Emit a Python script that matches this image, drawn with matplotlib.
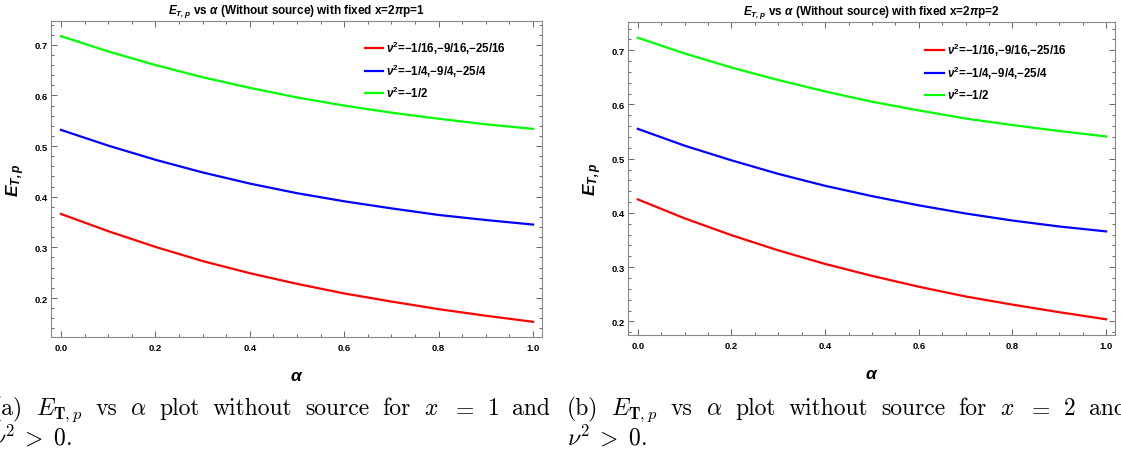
import numpy as np
import matplotlib
matplotlib.use("Agg")
from matplotlib import pyplot as plt
from matplotlib.ticker import MultipleLocator

# alpha grid and E_{T,p} values
alpha = [0.0, 0.1, 0.2, 0.3, 0.4, 0.5, 0.6, 0.7, 0.8, 0.9, 1.0]

red_x1 = [0.366, 0.332, 0.301, 0.273, 0.249, 0.228, 0.209, 0.193, 0.178, 0.165, 0.153]
blue_x1 = [0.532, 0.501, 0.473, 0.448, 0.426, 0.407, 0.391, 0.377, 0.364, 0.354, 0.345]
green_x1 = [0.717, 0.687, 0.660, 0.636, 0.615, 0.596, 0.580, 0.566, 0.554, 0.543, 0.534]

red_x2 = [0.425, 0.390, 0.359, 0.331, 0.306, 0.284, 0.264, 0.246, 0.231, 0.217, 0.204]
blue_x2 = [0.555, 0.524, 0.497, 0.472, 0.450, 0.431, 0.414, 0.399, 0.386, 0.375, 0.366]
green_x2 = [0.723, 0.694, 0.668, 0.645, 0.624, 0.605, 0.589, 0.574, 0.562, 0.551, 0.541]

labels = [r"$\mathbfit{\nu}^{\mathbf{2}}$=−1/16,−9/16,−25/16",
          r"$\mathbfit{\nu}^{\mathbf{2}}$=−1/4,−9/4,−25/4",
          r"$\mathbfit{\nu}^{\mathbf{2}}$=−1/2"]
colors = ["#ff0000", "#0000ff", "#00ff00"]

plt.rcParams["font.family"] = ["Liberation Sans", "DejaVu Sans"]
plt.rcParams["mathtext.fontset"] = "custom"
plt.rcParams["mathtext.rm"] = "Liberation Sans"
plt.rcParams["mathtext.it"] = "Liberation Sans:italic"
plt.rcParams["mathtext.bf"] = "Liberation Sans:bold"
plt.rcParams["mathtext.bfit"] = "Liberation Sans:bold:italic"

fig = plt.figure(figsize=(11.21, 4.52), dpi=100)

W, H = 1121.0, 452.0


def fx(px):
    return px / W


def fy(py):
    return 1 - py / H


def make_panel(rect, series, ylim, title, leg_anchor):
    ax = fig.add_axes(rect)
    for ys, c, lab in zip(series, colors, labels):
        ax.plot(alpha, ys, color=c, lw=1.6, label=lab)
    ax.set_xlim(-0.021, 1.019)
    ax.set_ylim(*ylim)
    ax.xaxis.set_major_locator(MultipleLocator(0.2))
    ax.xaxis.set_minor_locator(MultipleLocator(0.05))
    ax.yaxis.set_major_locator(MultipleLocator(0.1))
    ax.yaxis.set_minor_locator(MultipleLocator(0.02))
    ax.tick_params(which="both", direction="in", top=True, right=True,
                   color="#666666", width=0.7, labelsize=6.8)
    ax.tick_params(axis="x", pad=4)
    ax.tick_params(axis="y", pad=2.5)
    ax.tick_params(which="major", length=4)
    ax.tick_params(which="minor", length=2)
    for lbl in ax.get_xticklabels() + ax.get_yticklabels():
        lbl.set_fontweight("bold")
    for s in ax.spines.values():
        s.set_color("#888888")
        s.set_linewidth(0.8)
    ax.legend(loc="upper left", bbox_to_anchor=leg_anchor, frameon=False,
              prop={"weight": "bold", "size": 8.3}, handlelength=1.6,
              handletextpad=0.25, labelspacing=0.5, borderaxespad=0)
    ax.set_title(title, fontsize=8.5, fontweight="bold", pad=6)
    ax.set_xlabel(r"$\mathbfit{\alpha}$", fontsize=12.5, labelpad=12)
    ax.set_ylabel(r"$\mathbfit{E}_{\mathbfit{T,p}}$", fontsize=12.5, labelpad=5)
    return ax


ax1 = make_panel([fx(51), fy(338), fx(491), 316 / H],
                 [red_x1, blue_x1, green_x1], (0.123, 0.747),
                 r"$\mathbfit{E}_{\mathbfit{T,p}}$ vs $\mathbfit{\alpha}$ (Without source) with fixed x=2$\mathbfit{\pi}$p=1",
                 (0.630, 0.958))

ax2 = make_panel([fx(628), fy(336), fx(487), 313 / H],
                 [red_x2, blue_x2, green_x2], (0.175, 0.752),
                 r"$\mathbfit{E}_{\mathbfit{T,p}}$ vs $\mathbfit{\alpha}$ (Without source) with fixed x=2$\mathbfit{\pi}$p=2",
                 (0.601, 0.954))

# subcaptions, justified to the column width like the LaTeX source
cap_size = 17


def justified(words, x0, x1, y):
    texts = [fig.text(0, fy(y), w, fontsize=cap_size, family="cmr10",
                      math_fontfamily="cm", va="baseline", ha="left")
             for w in words]
    r = fig.canvas.get_renderer()
    widths = [t.get_window_extent(r).width for t in texts]
    gap = (x1 - x0 - sum(widths)) / (len(words) - 1)
    x = x0
    for t, w in zip(texts, widths):
        t.set_x(fx(x))
        x += w + gap


cap_a = ["(a)", r"$E_{\mathbf{T},p}$", "vs", r"$\alpha$", "plot", "without",
         "source", "for", r"$x$", r"$=$", r"$1$", "and"]
cap_b = ["(b)", r"$E_{\mathbf{T},p}$", "vs", r"$\alpha$", "plot", "without",
         "source", "for", r"$x$", r"$=$", r"$2$", "and"]
justified(cap_a, -7, 550, 415)
justified(cap_b, 567, 1127, 415)
fig.text(fx(-8), fy(445), r"$\nu^2\;>\;0.$", fontsize=cap_size,
         math_fontfamily="cm", va="baseline")
fig.text(fx(567), fy(445), r"$\nu^2\;>\;0.$", fontsize=cap_size,
         math_fontfamily="cm", va="baseline")

fig.savefig("out.png", dpi=100)
